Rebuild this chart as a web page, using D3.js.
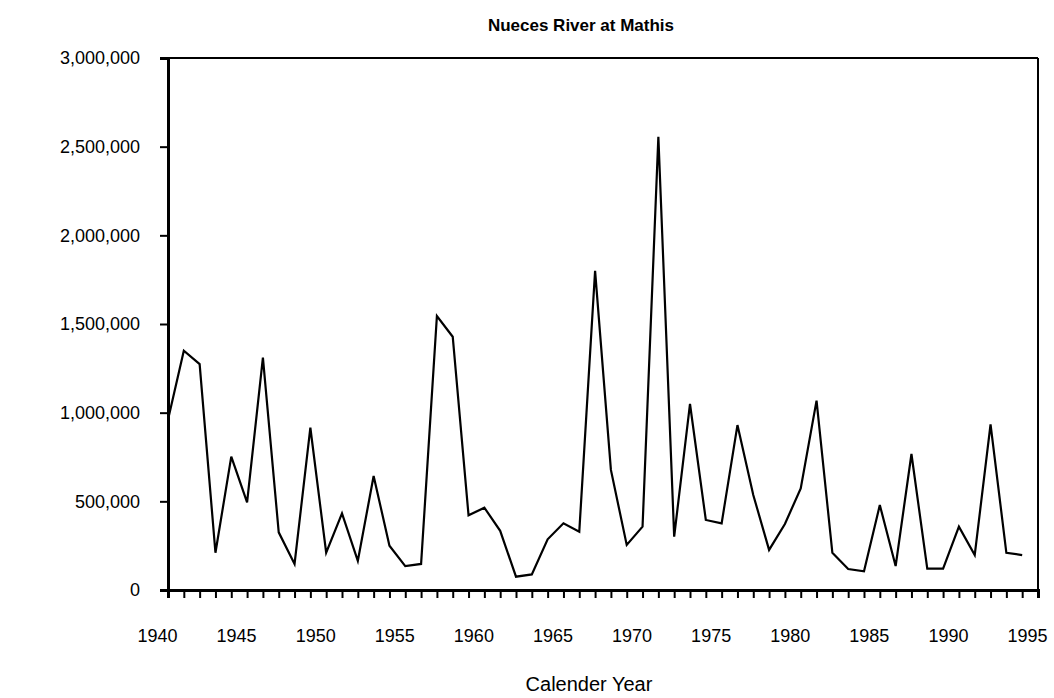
<!DOCTYPE html>
<html>
<head>
<meta charset="utf-8">
<script src="https://cdn.jsdelivr.net/npm/d3@7/dist/d3.min.js"></script>
<style>
  html, body { margin: 0; padding: 0; background: #fff; }
  svg { display: block; font-family: "Liberation Sans", Arial, sans-serif; }
</style>
</head>
<body>
<svg id="chart" width="1054" height="698"></svg>
<script>
const years = d3.range(1940, 1995);
const flows = [
  960000, 1349000, 1274000, 210000, 752000, 494000, 1310000, 325000, 147000, 915000,
  210000, 432000, 164000, 643000, 250000, 135000, 147000, 1545000, 1428000, 421000,
  464000, 334000, 75000, 88000, 286000, 376000, 329000, 1800000, 677000, 254000,
  357000, 2556000, 301000, 1049000, 395000, 376000, 930000, 536000, 226000, 372000,
  573000, 1068000, 210000, 118000, 105000, 479000, 135000, 767000, 120000, 120000,
  357000, 197000, 934000, 210000, 197000
];
const yTicks = [0, 500000, 1000000, 1500000, 2000000, 2500000, 3000000];
const xTickLabels = [1940, 1945, 1950, 1955, 1960, 1965, 1970, 1975, 1980, 1985, 1990, 1995];
const title = "Nueces River at Mathis";
const xTitle = "Calender Year";

const svg = d3.select("#chart");
const L = 168, R = 1038, T = 58, B = 590;

const x = d3.scaleLinear().domain([1940, 1995]).range([L, R]);
const y = d3.scaleLinear().domain([0, 3000000]).range([B, T]);

// frame (top & right)
svg.append("line").attr("x1", L).attr("x2", R).attr("y1", T).attr("y2", T)
  .attr("stroke", "#000").attr("stroke-width", 2);
svg.append("line").attr("x1", R).attr("x2", R).attr("y1", T).attr("y2", B)
  .attr("stroke", "#000").attr("stroke-width", 2);

// y axis
const yAxis = svg.append("g").attr("transform", `translate(${L},0)`)
  .call(d3.axisLeft(y).tickValues(yTicks).tickSize(8).tickPadding(20)
    .tickFormat(d3.format(",")));
yAxis.select(".domain").attr("stroke-width", 3);
yAxis.selectAll(".tick line").attr("stroke-width", 2);
yAxis.selectAll("text").attr("font-size", 18).attr("fill", "#000")
  .attr("font-family", "Liberation Sans, Arial, sans-serif");

// x axis: a tick every year, labels every 5
const xAxis = svg.append("g").attr("transform", `translate(0,${B})`)
  .call(d3.axisBottom(x).tickValues(d3.range(1940, 1996)).tickSize(8)
    .tickFormat(d => xTickLabels.includes(d) ? String(d) : ""));
xAxis.select(".domain").attr("stroke-width", 3);
xAxis.selectAll(".tick line").attr("stroke-width", 2);
xAxis.selectAll("text").attr("font-size", 18).attr("fill", "#000")
  .attr("font-family", "Liberation Sans, Arial, sans-serif")
  .attr("dy", 0).attr("y", 52).attr("dx", -11);

// data line
const line = d3.line().x((d, i) => x(years[i])).y(d => y(d));
svg.append("path").datum(flows)
  .attr("d", line).attr("fill", "none").attr("stroke", "#000")
  .attr("stroke-width", 2.2).attr("stroke-linejoin", "miter");

// title
svg.append("text").attr("x", 581).attr("y", 31).attr("text-anchor", "middle")
  .attr("font-size", 17).attr("font-weight", "bold").text(title);

// x title
svg.append("text").attr("x", 589).attr("y", 691).attr("text-anchor", "middle")
  .attr("font-size", 20).text(xTitle);
</script>
</body>
</html>
